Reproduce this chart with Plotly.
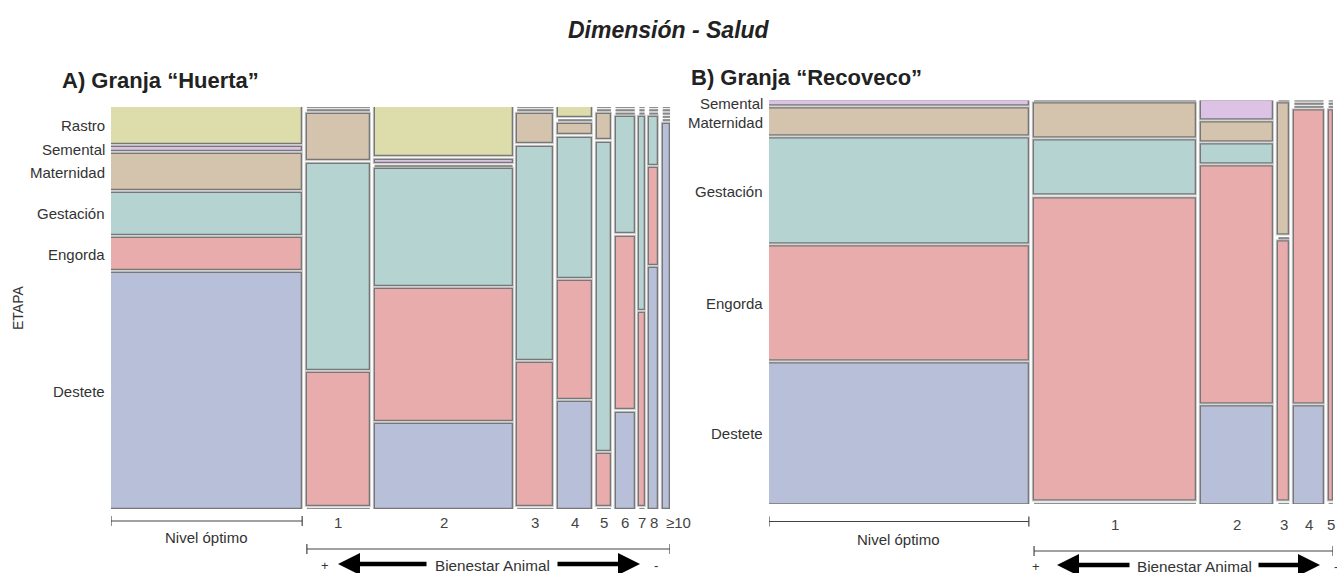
import plotly.graph_objects as go

W, H = 1337, 573

# ---------------- data ----------------
stage_colors = {
    "Destete": "#b7bfd9",
    "Engorda": "#e8acac",
    "Gestación": "#b5d3d0",
    "Maternidad": "#d4c3ad",
    "Semental": "#dcc3e5",
    "Rastro": "#dcddab",
}

# Granja "Huerta": share of each welfare level (% of animals) and stage mix (%) per level
levels_a = ["Nivel óptimo", "1", "2", "3", "4", "5", "6", "7", "8", "≥10"]
share_a = [37.0, 12.2, 26.7, 7.0, 6.6, 2.7, 3.7, 1.0, 1.7, 1.4]
destete_a = [61.1, 0, 22.1, 0, 27.7, 0, 25.0, 0, 62.5, 100]
engorda_a = [8.3, 34.4, 34.1, 36.9, 30.6, 13.4, 44.8, 50.0, 25.1, 0]
gestacion_a = [10.9, 53.5, 30.2, 55.4, 36.3, 79.9, 30.2, 50.0, 12.4, 0]
maternidad_a = [9.1, 12.1, 0, 7.7, 2.8, 6.7, 0, 0, 0, 0]
semental_a = [1.0, 0, 0.8, 0, 0, 0, 0, 0, 0, 0]
rastro_a = [9.6, 0, 12.8, 0, 2.6, 0, 0, 0, 0, 0]

# Granja "Recoveco"
levels_b = ["Nivel óptimo", "1", "2", "3", "4", "5"]
share_b = [48.3, 30.1, 13.4, 2.0, 5.4, 0.8]
destete_b = [35.9, 0, 25.0, 0, 24.9, 0]
engorda_b = [29.1, 77.5, 60.6, 66.4, 75.1, 100]
gestacion_b = [26.8, 13.8, 4.8, 0, 0, 0]
maternidad_b = [6.9, 8.7, 4.8, 33.6, 0, 0]
semental_b = [1.3, 0, 4.8, 0, 0, 0]

panel_a = {
    "Destete": destete_a, "Engorda": engorda_a, "Gestación": gestacion_a,
    "Maternidad": maternidad_a, "Semental": semental_a, "Rastro": rastro_a,
}
panel_b = {
    "Destete": destete_b, "Engorda": engorda_b, "Gestación": gestacion_b,
    "Maternidad": maternidad_b, "Semental": semental_b,
}

FONT = "Arial, Liberation Sans, sans-serif"


def mosaic(shares, table, gx, gy):
    """Return column extents and per-cell rectangles in [0,1] axis units."""
    n = len(shares)
    total = float(sum(shares))
    usable_x = 1 - (n - 1) * gx
    stages = list(table.keys())
    usable_y = 1 - (len(stages) - 1) * gy
    cols, cells = [], []
    x = 0.0
    for j in range(n):
        w = shares[j] / total * usable_x
        cols.append((x, w))
        colsum = float(sum(table[s][j] for s in stages))
        y = 0.0
        for s in stages:
            h = table[s][j] / colsum * usable_y
            cells.append((s, j, x, w, y, h))
            y += h + gy
        x += w + gx
    return cols, cells


fig = go.Figure()


def px_x(p):
    return p / W


def px_y(p):
    return 1 - p / H


def draw_panel(table, shares, levels, xa, ya, xdom, gx, gy):
    cols, cells = mosaic(shares, table, gx, gy)
    # zero-frequency cells drawn as flat lines
    zx, zy = [], []
    for s, j, x, w, y, h in cells:
        if h <= 0:
            zx += [x, x + w, None]
            zy += [y, y, None]
    fig.add_trace(go.Scatter(x=zx, y=zy, mode="lines", xaxis=xa, yaxis=ya,
                             line=dict(color="#a0a0a0", width=2.4),
                             hoverinfo="skip", showlegend=False))
    fig.add_trace(go.Scatter(x=zx, y=zy, mode="lines", xaxis=xa, yaxis=ya,
                             line=dict(color="#7a7a7a", width=0.8),
                             hoverinfo="skip", showlegend=False))
    for s in table.keys():
        sel = [c for c in cells if c[0] == s and c[5] > 0]
        if not sel:
            continue
        xs = [c[2] + c[3] / 2 for c in sel]
        ws = [c[3] for c in sel]
        bs = [c[4] for c in sel]
        hs = [c[5] for c in sel]
        # light halo beneath each tile
        fig.add_trace(go.Bar(x=xs, y=hs, base=bs, width=ws, xaxis=xa, yaxis=ya,
                             marker=dict(color=stage_colors[s],
                                         line=dict(color="#cfcfcf", width=3.2)),
                             hoverinfo="skip", showlegend=False))
        fig.add_trace(go.Bar(x=xs, y=hs, base=bs, width=ws, xaxis=xa, yaxis=ya,
                             marker=dict(color=stage_colors[s],
                                         line=dict(color="#777777", width=1.3)),
                             name=s, showlegend=False))
    # stage labels next to the first column
    for s, j, x, w, y, h in cells:
        if j == 0:
            fig.add_annotation(x=xdom[0], xref="paper", xanchor="right", xshift=-4,
                               y=y + h / 2, yref=ya, yanchor="middle",
                               text=s, showarrow=False,
                               font=dict(family=FONT, size=15, color="#333333"))
    return cols


def axis_cfg(dom):
    return dict(domain=dom, range=[0, 1], showgrid=False, zeroline=False,
                showticklabels=False, ticks="", showline=False, fixedrange=True)


# panel geometry in pixels: left, right, top, bottom
geo_a = (111, 670, 107, 509)
geo_b = (769, 1333, 100.5, 504)

xdom_a = [px_x(geo_a[0]), px_x(geo_a[1])]
ydom_a = [px_y(geo_a[3]), px_y(geo_a[2])]
xdom_b = [px_x(geo_b[0]), px_x(geo_b[1])]
ydom_b = [px_y(geo_b[3]), px_y(geo_b[2])]

cols_a = draw_panel(panel_a, share_a, levels_a, "x", "y", xdom_a, 4.7 / 559, 3.3 / 402)
cols_b = draw_panel(panel_b, share_b, levels_b, "x2", "y2", xdom_b, 5.2 / 564, 3.2 / 403.5)

LINE = "#444444"


def bracket(xref, x0, x1, ypx):
    y = px_y(ypx)
    t = 5 / H
    fig.add_shape(type="line", xref=xref, yref="paper", x0=x0, x1=x1, y0=y, y1=y,
                  line=dict(color=LINE, width=1.2))
    for xx in (x0, x1):
        fig.add_shape(type="line", xref=xref, yref="paper", x0=xx, x1=xx,
                      y0=y - t, y1=y + t, line=dict(color=LINE, width=1.2))


def caption(xpx, ypx, text, size):
    fig.add_annotation(x=px_x(xpx), xref="paper", xanchor="center",
                       y=px_y(ypx), yref="paper", yanchor="middle",
                       text=text, showarrow=False,
                       font=dict(family=FONT, size=size, color="#333333"))


def level_axis(cols, levels, xa, tick_y, opt_y, opt_txt_y, bien_y, bien_txt_y,
               plus_px, minus_px, arrow_left, arrow_right):
    for j, (x, w) in enumerate(cols):
        if j == 0:
            continue
        lab = levels[j]
        if lab.startswith("≥"):
            fig.add_annotation(x=x, xref=xa, xanchor="left", xshift=1,
                               y=px_y(tick_y), yref="paper", yanchor="middle",
                               text=lab, showarrow=False,
                               font=dict(family=FONT, size=15, color="#444444"))
        else:
            fig.add_annotation(x=x + w / 2, xref=xa, xanchor="center",
                               y=px_y(tick_y), yref="paper", yanchor="middle",
                               text=lab, showarrow=False,
                               font=dict(family=FONT, size=15, color="#444444"))
    x0, w0 = cols[0]
    bracket(xa, x0, x0 + w0, opt_y)
    fig.add_annotation(x=x0 + w0 / 2, xref=xa, xanchor="center",
                       y=px_y(opt_txt_y), yref="paper",
                       text=levels[0], showarrow=False, yanchor="middle",
                       font=dict(family=FONT, size=15, color="#333333"))
    xs = cols[1][0]
    xe = cols[-1][0] + cols[-1][1]
    bracket(xa, xs, xe, bien_y)
    # caption row under the welfare scale
    caption(plus_px, bien_txt_y, "+", 13)
    caption(minus_px, bien_txt_y, "-", 13)
    caption((arrow_left[1] + arrow_right[0]) / 2, bien_txt_y, "Bienestar Animal", 15.3)
    # thick arrows either side of the caption
    for tip, tail in ((arrow_left[0], arrow_left[1]), (arrow_right[1], arrow_right[0])):
        fig.add_annotation(x=px_x(tip), xref="paper", y=px_y(bien_txt_y - 1), yref="paper",
                           ax=tail - tip, ay=0, axref="pixel", ayref="pixel",
                           text="", showarrow=True, arrowhead=2, arrowsize=1.0,
                           arrowwidth=4.4, arrowcolor="#000000", standoff=0)


level_axis(cols_a, levels_a, "x", 522, 521, 537, 549, 565,
           325, 656, (338, 428), (556, 640))
level_axis(cols_b, levels_b, "x2", 524, 521.5, 539, 551, 566,
           1036, 1336, (1057, 1131), (1257, 1320))

# titles
fig.add_annotation(x=0.5, xref="paper", xanchor="center", y=px_y(30), yref="paper",
                   yanchor="middle", text="<b><i>Dimensión - Salud</i></b>",
                   showarrow=False, font=dict(family=FONT, size=23, color="#222222"))
fig.add_annotation(x=px_x(60), xref="paper", xanchor="left", y=px_y(81), yref="paper",
                   yanchor="middle", text="<b>A) Granja “Huerta”</b>", showarrow=False,
                   font=dict(family=FONT, size=22, color="#222222"))
fig.add_annotation(x=px_x(689), xref="paper", xanchor="left", y=px_y(77), yref="paper",
                   yanchor="middle", text="<b>B) Granja “Recoveco”</b>", showarrow=False,
                   font=dict(family=FONT, size=22, color="#222222"))
fig.add_annotation(x=px_x(18), xref="paper", xanchor="center", y=px_y(308), yref="paper",
                   text="ETAPA", textangle=-90, showarrow=False,
                   font=dict(family=FONT, size=14, color="#333333"))

fig.update_layout(
    width=W, height=H,
    margin=dict(l=0, r=0, t=0, b=0),
    paper_bgcolor="white", plot_bgcolor="white",
    barmode="overlay", bargap=0,
    showlegend=False,
    xaxis=axis_cfg(xdom_a), yaxis=axis_cfg(ydom_a),
    xaxis2=dict(axis_cfg(xdom_b), anchor="y2"),
    yaxis2=dict(axis_cfg(ydom_b), anchor="x2"),
)
fig.update_xaxes(type="linear")

fig.write_html("out.html")
